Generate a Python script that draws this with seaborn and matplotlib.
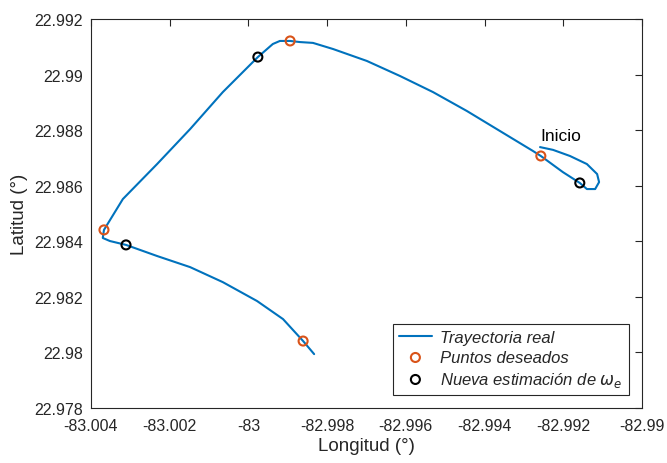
import numpy as np
import matplotlib
matplotlib.use("Agg")
import matplotlib.pyplot as plt
import seaborn as sns
import pandas as pd

# Trayectoria real
lon = [-82.99259, -82.99226, -82.99183, -82.99140, -82.99114, -82.99109, -82.99119,
       -82.99140, -82.99158, -82.99201, -82.99257, -82.99277, -82.99361, -82.99445,
       -82.99531, -82.99615, -82.99699, -82.99785, -82.99836, -82.99869, -82.99894,
       -82.99920, -82.99938, -82.99976, -83.00065, -83.00148, -83.00232, -83.00319,
       -83.00367, -83.00370, -83.00352, -83.00311, -83.00232, -83.00148, -83.00065,
       -82.99978, -82.99912, -82.99861, -82.99833]
lat = [22.98739, 22.98729, 22.98707, 22.98678, 22.98642, 22.98613, 22.98588,
       22.98588, 22.98610, 22.98649, 22.98707, 22.98725, 22.98797, 22.98869,
       22.98937, 22.98995, 22.99049, 22.99092, 22.99114, 22.99117, 22.99121,
       22.99121, 22.99110, 22.99063, 22.98937, 22.98804, 22.98678, 22.98552,
       22.98441, 22.98412, 22.98401, 22.98387, 22.98347, 22.98307, 22.98253,
       22.98185, 22.98120, 22.98041, 22.97994]

# Puntos deseados
des_lon = [-82.99257, -82.99894, -83.00367, -82.99861]
des_lat = [22.98707, 22.99121, 22.98441, 22.98041]

# Nueva estimacion de omega_e
est_lon = [-82.99158, -82.99976, -83.00311]
est_lat = [22.98610, 22.99063, 22.98387]

xticks = [-83.004, -83.002, -83.0, -82.998, -82.996, -82.994, -82.992, -82.99]
xlabels = ["-83.004", "-83.002", "-83", "-82.998", "-82.996", "-82.994", "-82.992", "-82.99"]
yticks = [22.978, 22.98, 22.982, 22.984, 22.986, 22.988, 22.99, 22.992]
ylabels = ["22.978", "22.98", "22.982", "22.984", "22.986", "22.988", "22.99", "22.992"]

sns.set_style("white")
plt.rcParams['font.family'] = ['Liberation Sans', 'DejaVu Sans']

traj = pd.DataFrame({"lon": lon, "lat": lat})
des = pd.DataFrame({"lon": des_lon, "lat": des_lat})
est = pd.DataFrame({"lon": est_lon, "lat": est_lat})

fig = plt.figure(figsize=(6.67, 4.64), dpi=100)
ax = fig.add_axes([0.1364, 0.1185, 0.8261, 0.8384])

sns.lineplot(data=traj, x="lon", y="lat", sort=False, estimator=None,
             color="#0072BD", linewidth=1.5, ax=ax, label="Trayectoria real")
sns.scatterplot(data=des, x="lon", y="lat", marker="o", s=42, facecolors="none",
                edgecolor="#D95319", linewidth=1.5, ax=ax, label="Puntos deseados", zorder=3)
sns.scatterplot(data=est, x="lon", y="lat", marker="o", s=42, facecolors="none",
                edgecolor="black", linewidth=1.5, ax=ax,
                label="Nueva estimación de $\\omega_e$", zorder=3)

ax.text(-82.99259, 22.98752, "Inicio", fontsize=12.5, color="black", ha="left", va="bottom")

ax.set_xlim(-83.004, -82.99)
ax.set_ylim(22.978, 22.992)
ax.set_xticks(xticks)
ax.set_xticklabels(xlabels)
ax.set_yticks(yticks)
ax.set_yticklabels(ylabels)
ax.tick_params(direction="in", length=5, width=0.8, colors="#262626", labelsize=11.5,
               top=True, right=True, labelcolor="#262626")
ax.tick_params(axis="x", pad=7)
ax.tick_params(axis="y", pad=6)
for s in ax.spines.values():
    s.set_color("#262626")
    s.set_linewidth(0.8)
ax.set_xlabel("Longitud (°)", fontsize=13.5, color="#262626", labelpad=3)
ax.set_ylabel("Latitud (°)", fontsize=13.5, color="#262626", labelpad=4)

leg = ax.legend(loc="lower right", fontsize=12, frameon=True, fancybox=False,
                framealpha=1, edgecolor="#262626", handlelength=2.0,
                borderaxespad=0.8, labelspacing=0.3, handletextpad=0.5,
                borderpad=0.35)
leg.get_frame().set_linewidth(0.8)
for t in leg.get_texts():
    t.set_fontstyle("italic")

fig.savefig("out.png", dpi=100)
